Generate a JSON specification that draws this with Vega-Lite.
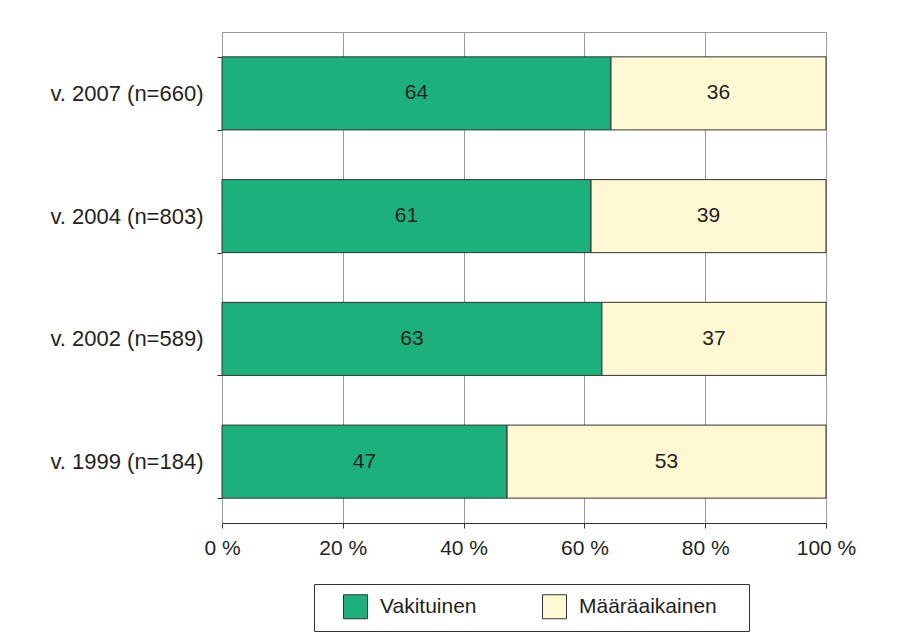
{
  "$schema": "https://vega.github.io/schema/vega-lite/v6.json",
  "width": 604,
  "height": 491,
  "autosize": {"type": "none"},
  "padding": {"left": 222, "top": 32, "right": 98, "bottom": 117},
  "background": "white",
  "config": {
    "font": "Liberation Sans",
    "view": {"stroke": "#9a9a9a", "strokeWidth": 1}
  },
  "data": {
    "values": [
      {"ryhma": "v. 2007 (n=660)", "tyyppi": "Vakituinen", "jarj": 1, "pct": 64.4},
      {"ryhma": "v. 2007 (n=660)", "tyyppi": "Määräaikainen", "jarj": 2, "pct": 35.6},
      {"ryhma": "v. 2004 (n=803)", "tyyppi": "Vakituinen", "jarj": 1, "pct": 61.1},
      {"ryhma": "v. 2004 (n=803)", "tyyppi": "Määräaikainen", "jarj": 2, "pct": 38.9},
      {"ryhma": "v. 2002 (n=589)", "tyyppi": "Vakituinen", "jarj": 1, "pct": 62.9},
      {"ryhma": "v. 2002 (n=589)", "tyyppi": "Määräaikainen", "jarj": 2, "pct": 37.1},
      {"ryhma": "v. 1999 (n=184)", "tyyppi": "Vakituinen", "jarj": 1, "pct": 47.2},
      {"ryhma": "v. 1999 (n=184)", "tyyppi": "Määräaikainen", "jarj": 2, "pct": 52.8}
    ]
  },
  "encoding": {
    "y": {
      "field": "ryhma",
      "type": "nominal",
      "sort": ["v. 2007 (n=660)", "v. 2004 (n=803)", "v. 2002 (n=589)", "v. 1999 (n=184)"],
      "scale": {"paddingInner": 0.405, "paddingOuter": 0.2025},
      "axis": {
        "title": null,
        "tickBand": "extent",
        "tickSize": 5,
        "tickColor": "#333333",
        "domainColor": "#9a9a9a",
        "labelFont": "Liberation Sans",
        "labelFontSize": 22,
        "labelColor": "#231f20",
        "labelPadding": 14,
        "labelLimit": 300
      }
    },
    "x": {
      "field": "pct",
      "type": "quantitative",
      "stack": "normalize",
      "scale": {"domain": [0, 1]},
      "axis": {
        "title": null,
        "values": [0, 0.2, 0.4, 0.6, 0.8, 1],
        "labelExpr": "round(datum.value*100) + ' %'",
        "grid": true,
        "gridColor": "#9a9a9a",
        "gridWidth": 1,
        "domainColor": "#333333",
        "tickColor": "#333333",
        "tickSize": 5,
        "labelFont": "Liberation Sans",
        "labelFontSize": 21,
        "labelColor": "#231f20",
        "labelPadding": 9,
        "labelFlush": false
      }
    },
    "order": {"field": "jarj", "type": "quantitative"}
  },
  "layer": [
    {
      "mark": {"type": "bar", "stroke": "#333333", "strokeWidth": 1},
      "encoding": {
        "color": {
          "field": "tyyppi",
          "type": "nominal",
          "scale": {"domain": ["Vakituinen", "Määräaikainen"], "range": ["#1cb07d", "#fff9d3"]},
          "legend": {
            "title": "\u00a0",
            "titleOrient": "right",
            "titlePadding": 22,
            "titleFontSize": 12,
            "orient": "none",
            "legendX": 92,
            "legendY": 552,
            "direction": "horizontal",
            "symbolType": "square",
            "symbolSize": 576,
            "symbolStrokeColor": "#333333",
            "symbolStrokeWidth": 1,
            "symbolOpacity": 1,
            "labelFont": "Liberation Sans",
            "labelFontSize": 21,
            "labelColor": "#231f20",
            "labelOffset": 12,
            "columnPadding": 46,
            "padding": 10,
            "symbolOffset": 19,
            "strokeColor": "#333333",
            "fillColor": "white",
            "labelLimit": 300
          }
        }
      }
    },
    {
      "mark": {"type": "text", "font": "Liberation Sans", "fontSize": 21, "color": "#231f20"},
      "encoding": {
        "x": {"field": "pct", "type": "quantitative", "stack": "normalize", "bandPosition": 0.5},
        "text": {"field": "pct", "type": "quantitative", "format": ".0f"}
      }
    }
  ]
}
